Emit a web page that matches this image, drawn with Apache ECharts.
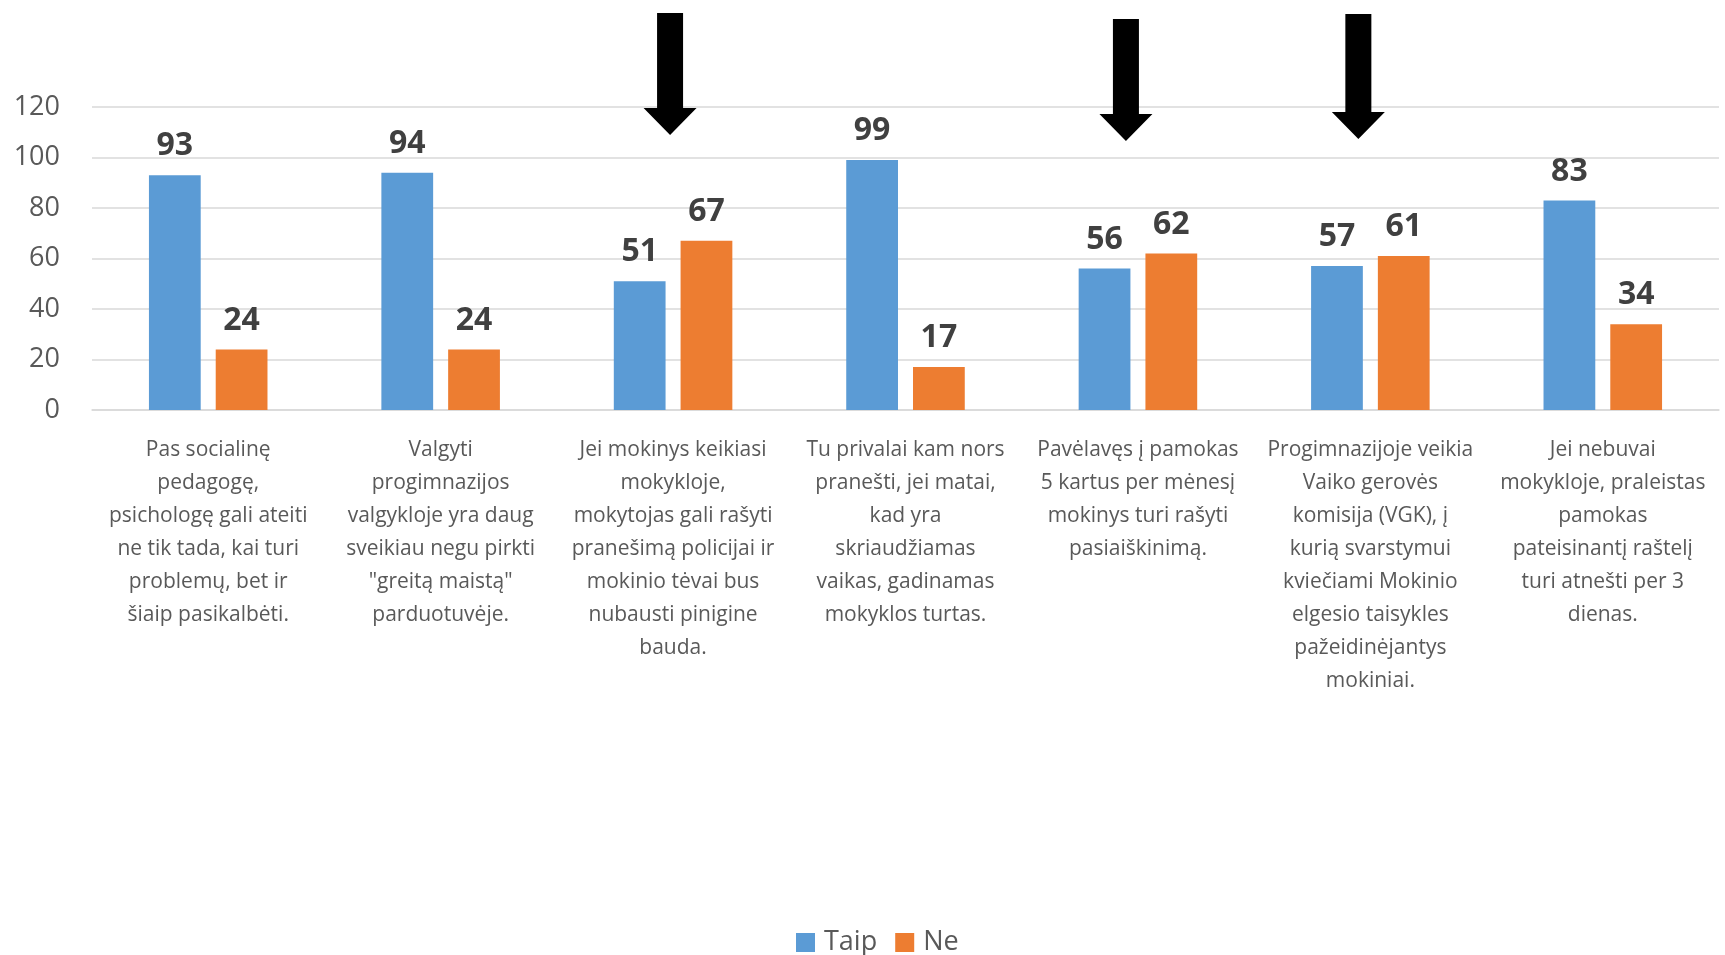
<!DOCTYPE html>
<html>
<head>
<meta charset="utf-8">
<script src="https://cdn.jsdelivr.net/npm/echarts@6/dist/echarts.min.js"></script>
<style>
html,body{margin:0;padding:0;background:#fff;}
#chart{width:1725px;height:955px;}
</style>
</head>
<body>
<div id="chart"></div>
<script>
const categories = [
  "Pas socialinę\npedagogę,\npsichologę gali ateiti\nne tik tada, kai turi\nproblemų, bet ir\nšiaip pasikalbėti.",
  "Valgyti\nprogimnazijos\nvalgykloje yra daug\nsveikiau negu pirkti\n\"greitą maistą\"\nparduotuvėje.",
  "Jei mokinys keikiasi\nmokykloje,\nmokytojas gali rašyti\npranešimą policijai ir\nmokinio tėvai bus\nnubausti pinigine\nbauda.",
  "Tu privalai kam nors\npranešti, jei matai,\nkad yra\nskriaudžiamas\nvaikas, gadinamas\nmokyklos turtas.",
  "Pavėlavęs į pamokas\n5 kartus per mėnesį\nmokinys turi rašyti\npasiaiškinimą.",
  "Progimnazijoje veikia\nVaiko gerovės\nkomisija (VGK), į\nkurią svarstymui\nkviečiami Mokinio\nelgesio taisykles\npažeidinėjantys\nmokiniai.",
  "Jei nebuvai\nmokykloje, praleistas\npamokas\npateisinantį raštelį\nturi atnešti per 3\ndienas."
];
const seriesNames = ["Taip", "Ne"];
const taipValues = [93, 94, 51, 99, 56, 57, 83];
const neValues = [24, 24, 67, 17, 62, 61, 34];
const yTicks = [0, 20, 40, 60, 80, 100, 120];
// annotation arrows: category index and horizontal offset (px) from its centre
const arrowCategoryIndex = [2, 4, 5];
const arrowOffsetX = [-3, -12, -12];
const arrowTopY = [13, 19, 14];
const arrowHeadY = [108, 114, 112];
const arrowTipY = [135, 141, 139];

const FONT = "'Open Sans', 'Noto Sans', sans-serif";
const chart = echarts.init(document.getElementById('chart'), null, {renderer: 'canvas'});

const labelStyle = {
  show: true,
  position: 'top',
  distance: 13,
  color: '#404040',
  fontFamily: FONT,
  fontWeight: 'bold',
  fontSize: 32
};

chart.setOption({
  animation: false,
  backgroundColor: '#ffffff',
  grid: {left: 92, right: 6, top: 107, bottom: 545, containLabel: false},
  legend: {
    data: seriesNames,
    left: 791,
    top: 924,
    icon: 'rect',
    itemWidth: 19,
    itemHeight: 19,
    itemGap: 18,
    textStyle: {fontFamily: FONT, fontSize: 27, color: '#595959', padding: [0, 0, 0, 4]}
  },
  xAxis: {
    type: 'category',
    data: categories,
    axisLine: {show: true, lineStyle: {color: '#D9D9D9', width: 1.5}},
    axisTick: {show: false},
    axisLabel: {
      interval: 0,
      margin: 24,
      color: '#595959',
      fontFamily: FONT,
      fontSize: 21,
      lineHeight: 33,
      align: 'center',
      verticalAlign: 'top'
    }
  },
  yAxis: {
    type: 'value',
    min: yTicks[0],
    max: yTicks[yTicks.length - 1],
    interval: yTicks[1] - yTicks[0],
    axisLine: {show: false},
    axisTick: {show: false},
    splitLine: {lineStyle: {color: '#D9D9D9', width: 1.5}},
    axisLabel: {margin: 32, color: '#595959', fontFamily: FONT, fontSize: 27}
  },
  series: [
    {
      name: seriesNames[0],
      type: 'bar',
      data: taipValues,
      itemStyle: {color: '#5B9BD5'},
      barGap: '29%',
      barCategoryGap: '49%',
      label: labelStyle
    },
    {
      name: seriesNames[1],
      type: 'bar',
      data: neValues,
      itemStyle: {color: '#ED7D31'},
      barGap: '29%',
      barCategoryGap: '49%',
      label: labelStyle
    }
  ]
});

// Arrow annotations above selected categories
const shaftHalf = 13, headHalf = 26.5;
const graphics = arrowCategoryIndex.map((ci, i) => {
  const cx = chart.convertToPixel({xAxisIndex: 0}, ci) + arrowOffsetX[i];
  const t = arrowTopY[i], h = arrowHeadY[i], tip = arrowTipY[i];
  return {
    type: 'polygon',
    shape: {points: [
      [cx - shaftHalf, t], [cx + shaftHalf, t], [cx + shaftHalf, h],
      [cx + headHalf, h], [cx, tip], [cx - headHalf, h], [cx - shaftHalf, h]
    ]},
    style: {fill: '#000000'},
    z: 100
  };
});
chart.setOption({graphic: graphics});
</script>
</body>
</html>
